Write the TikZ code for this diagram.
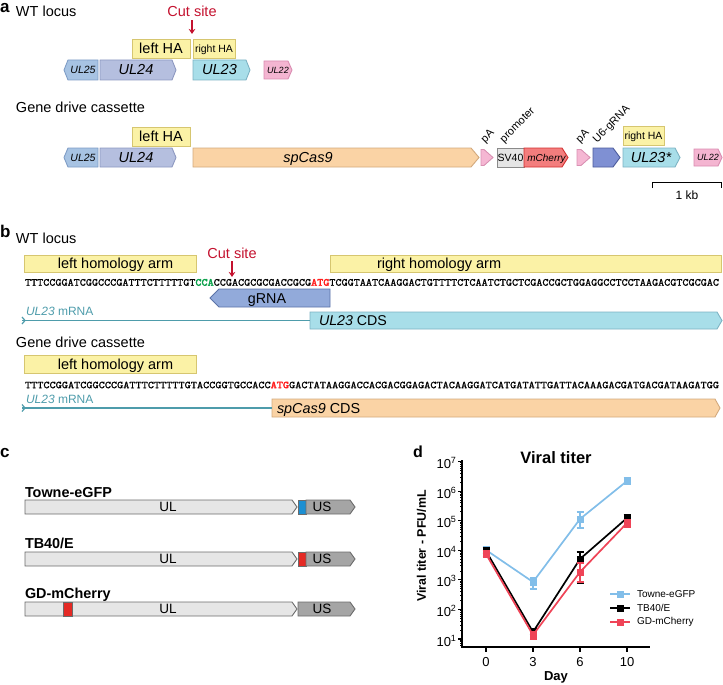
\documentclass[tikz,border=0pt]{standalone}
\usepackage{fontspec}
\setmainfont{Liberation Sans}
\newfontfamily\seqfont[FakeBold=1.2]{lmmono10-regular.otf}
\newfontfamily\seqfontb[FakeBold=3]{lmmono10-regular.otf}
\usepackage{graphicx}
\usetikzlibrary{arrows.meta}
\definecolor{haF}{HTML}{FBF2A6}\definecolor{haD}{HTML}{D6C670}
\definecolor{ul25F}{HTML}{A7C3E3}\definecolor{ul25D}{HTML}{7F9DC6}
\definecolor{ul24F}{HTML}{B5BFDF}\definecolor{ul24D}{HTML}{8D98C0}
\definecolor{ul23F}{HTML}{A8DEE9}\definecolor{ul23D}{HTML}{7DB3C3}
\definecolor{ul22F}{HTML}{F4B5D1}\definecolor{ul22D}{HTML}{D98CB1}
\definecolor{casF}{HTML}{FAD3A5}\definecolor{casD}{HTML}{D3A97D}
\definecolor{paF}{HTML}{F5B7D3}\definecolor{paD}{HTML}{D991B3}
\definecolor{svF}{HTML}{E5E5E5}\definecolor{svD}{HTML}{8A8A8A}
\definecolor{mchF}{HTML}{F37D7D}\definecolor{mchD}{HTML}{D22F2F}
\definecolor{u6F}{HTML}{7F90D3}\definecolor{u6D}{HTML}{4C5C9C}
\definecolor{grF}{HTML}{92AADA}\definecolor{grD}{HTML}{5B73A8}
\definecolor{cutred}{HTML}{C4122F}
\definecolor{cagreen}{HTML}{0AA04A}
\definecolor{atgred}{HTML}{FF1F1F}
\definecolor{mrnaC}{HTML}{4E9CAB}
\definecolor{ulF}{HTML}{E6E6E6}\definecolor{ulD}{HTML}{6B6B6B}
\definecolor{usF}{HTML}{A5A5A5}
\definecolor{gfpB}{HTML}{1C8FD2}
\definecolor{markR}{HTML}{E42A25}
\definecolor{towneC}{HTML}{82BEE9}
\definecolor{gdC}{HTML}{EF4457}
\newcommand\FSz[1]{\fontsize{#1}{#1}\selectfont}
\newcommand\tpow[1]{10\raisebox{5pt}{\FSz{9}#1}}
\newcommand\GeneRight[7]{%
  \draw[#2] (#3,#5) -- ({#4-#7},#5) -- (#4,{(#5+#6)/2}) -- ({#4-#7},#6) -- (#3,#6) -- cycle;
  \coordinate (#1) at ({(#3+#4-#7)/2},{(#5+#6)/2});
  \coordinate (#1-w) at (#3,{(#5+#6)/2});
  \coordinate (#1-e) at (#4,{(#5+#6)/2});}
\newcommand\GeneLeft[7]{%
  \draw[#2] (#4,#5) -- ({#3+#7},#5) -- (#3,{(#5+#6)/2}) -- ({#3+#7},#6) -- (#4,#6) -- cycle;
  \coordinate (#1) at ({(#3+#4+#7)/2},{(#5+#6)/2});
  \coordinate (#1-w) at (#3,{(#5+#6)/2});
  \coordinate (#1-e) at (#4,{(#5+#6)/2});}
\tikzset{
  gb/.style={line width=0.9pt},
  hab/.style={draw=haD, fill=haF, line width=0.9pt},
  capc/.style={text height=#1, text depth=0pt},
  cutarrow/.style={cutred, line width=1.4pt, -{Stealth[length=5pt,width=6.5pt]}},
  mrna/.style={mrnaC, line width=1.2pt},
  panel/.style={font=\FSz{17}\bfseries, anchor=base west, text height=9pt},
  rotlab/.style={anchor=base west, rotate=45, font=\FSz{11}},
}
\begin{document}
\begin{tikzpicture}[x=1pt,y=-1pt, every node/.style={inner sep=0pt, outer sep=0pt}]
\useasboundingbox (0,0) rectangle (723,685);

% ---------------- panel a ----------------
\node[panel] (la) at (0,12.5) {a};
\node[anchor=base west, font=\FSz{14.5}] (wta) at (16,17) {WT locus};
\node[anchor=base, font=\FSz{14.5}, text=cutred] (cuta) at (192,17) {Cut site};
\coordinate (cutaT) at (192,34);
\draw[cutarrow] ([yshift=-3pt]cuta.south) -- (cutaT);
\node[hab, minimum width=58pt, minimum height=19pt, font=\FSz{14.5}] (lhaA) at (161,48.5) {left HA};
\node[hab, minimum width=42pt, minimum height=19pt, font=\FSz{10.5}, capc=7.6pt] (rhaA) at (214,48.5) {right HA};
\GeneLeft{ul25A}{fill=ul25F,draw=ul25D,gb}{64}{98}{60}{80}{4}
\node[font=\FSz{10.5}\itshape] at (ul25A) {UL25};
\GeneRight{ul24A}{fill=ul24F,draw=ul24D,gb}{100}{176}{60}{80}{4}
\node[font=\FSz{14.5}\itshape] at (ul24A) {UL24};
\GeneRight{ul23A}{fill=ul23F,draw=ul23D,gb}{193}{250}{60}{80}{4}
\node[font=\FSz{14.5}\itshape] at (ul23A) {UL23};
\GeneRight{ul22A}{fill=ul22F,draw=ul22D,gb}{264}{292}{61}{79}{4}
\node[font=\FSz{9}\itshape] at ([xshift=2pt]ul22A) {UL22};

\node[anchor=base west, font=\FSz{14.5}] (gdc) at (16,112) {Gene drive cassette};
\node[hab, minimum width=58pt, minimum height=19pt, font=\FSz{14.5}] (lhaB) at (161,136.5) {left HA};
\GeneLeft{ul25B}{fill=ul25F,draw=ul25D,gb}{64}{98}{148}{167}{4}
\node[font=\FSz{10.5}\itshape] at (ul25B) {UL25};
\GeneRight{ul24B}{fill=ul24F,draw=ul24D,gb}{100}{176}{148}{167}{4}
\node[font=\FSz{14.5}\itshape] at (ul24B) {UL24};
\GeneRight{casB}{fill=casF,draw=casD,gb}{193}{479}{148}{167}{8}
\node[font=\FSz{14.5}\itshape, capc=10.4pt] at (308,157.5) {spCas9};
\GeneRight{pa1}{fill=paF,draw=paD,gb}{481}{493}{149.5}{165.5}{9}
\node[draw=svD, fill=svF, gb, minimum width=27pt, minimum height=19pt, font=\FSz{10.5}] (sv40) at (510.5,157.5) {SV40};
\GeneRight{mch}{fill=mchF,draw=mchD,gb}{524}{568}{148}{167}{6}
\node[font=\FSz{10}\itshape, capc=7.2pt] at (546.5,157.5) {mCherry};
\GeneRight{pa2}{fill=paF,draw=paD,gb}{577}{590}{149.5}{165.5}{9}
\GeneRight{u6}{fill=u6F,draw=u6D,gb}{593}{620}{148}{167}{7}
\node[hab, minimum width=41pt, minimum height=19pt, font=\FSz{10.5}, capc=7.6pt] (rhaB) at (643.5,135.5) {right HA};
\GeneRight{ul23B}{fill=ul23F,draw=ul23D,gb}{623}{680}{148}{167}{5}
\node[font=\FSz{14.5}\itshape] at (651,157.5) {UL23*};
\GeneRight{ul22B}{fill=ul22F,draw=ul22D,gb}{694}{722}{149}{166}{4}
\node[font=\FSz{9}\itshape] at ([xshift=2pt]ul22B) {UL22};
\node[rotlab] (lpa1) at (485,143) {pA};
\node[rotlab] (lprom) at (504,143) {promoter};
\node[rotlab] (lpa2) at (580,143) {pA};
\node[rotlab] (lu6) at (597,143) {U6-gRNA};
\coordinate (sbL) at (652,182);
\coordinate (sbR) at (721.5,182);
\draw[line width=1pt] ([yshift=-6pt]sbL) -- (sbL) -- (sbR) -- ([yshift=-6pt]sbR);
\node[font=\FSz{12}] (kb) at (687,195) {1 kb};

% ---------------- panel b ----------------
\node[panel] (lb) at (0,237) {b};
\node[anchor=base west, font=\FSz{14.5}] (wtb) at (16,243) {WT locus};
\node[anchor=base west, font=\FSz{12.5}\bfseries] (grl) at (492,270) {gRNA\,:};
\node[anchor=base west] (grs) at (537,270) {\resizebox{183pt}{8.3pt}{\seqfont ACATCGCGGTCGCGCGTCGG}};
\node[hab, minimum width=172pt, minimum height=17pt] (lhb1) at (110,263.5) {};
\node[anchor=base, font=\FSz{14.5}] (lhb1t) at (115.5,268.7) {left homology arm};
\node[hab, minimum width=391pt, minimum height=17pt] (rhb1) at (525.5,263.5) {};
\node[anchor=base west, font=\FSz{14.5}] (rhb1t) at (377,268.7) {right homology arm};
\node[anchor=base, font=\FSz{14.5}, text=cutred] (cutb) at (232,258) {Cut site};
\coordinate (cutbT) at (232,277);
\draw[cutarrow] ([yshift=-3pt]cutb.south) -- (cutbT);
\node[anchor=base west] (seq1) at (25,285.7) {\resizebox{694pt}{6.7pt}{\seqfont TTTCCGGATCGGCCCGATTTCTTTTTGT\textcolor{cagreen}{\seqfontb CCA}CCGACGCGCGACCGCG\textcolor{atgred}{\seqfontb ATG}TCGGTAATCAAGGACTGTTTTCTCAATCTGCTCGACCGCTGGAGGCCTCCTAAGACGTCGCGAC}};
\GeneLeft{grb}{fill=grF,draw=grD,gb}{210}{330}{289}{307}{9}
\node[font=\FSz{14.3}, capc=10.3pt] (grbt) at (267,298) {gRNA};
\node[anchor=base west, font=\FSz{12}, text=mrnaC] (mr1) at (26,315) {\textit{UL23} mRNA};
\GeneRight{cds1}{fill=ul23F,draw=ul23D,gb}{310}{722}{312}{329}{5}
\node[anchor=base west, font=\FSz{14.2}] (cds1t) at (319,325.6) {\textit{UL23} CDS};
\coordinate (mr1s) at (22,320.5);
\draw[mrna] (mr1s) -- (cds1-w);
\draw[mrna] ([shift={(0,-3.5)}]mr1s) -- ([xshift=3pt]mr1s) -- ([shift={(0,3.5)}]mr1s);

\node[anchor=base west, font=\FSz{14.5}] (gdb) at (16,347.5) {Gene drive cassette};
\node[hab, minimum width=172pt, minimum height=18pt] (lhb2) at (110,364) {};
\node[anchor=base, font=\FSz{14.5}] (lhb2t) at (115.5,369.2) {left homology arm};
\node[anchor=base west] (seq2) at (25,388.2) {\resizebox{694pt}{6.5pt}{\seqfont TTTCCGGATCGGCCCGATTTCTTTTTGTACCGGTGCCACC\textcolor{atgred}{\seqfontb ATG}GACTATAAGGACCACGACGGAGACTACAAGGATCATGATATTGATTACAAAGACGATGACGATAAGATGG}};
\node[anchor=base west, font=\FSz{12}, text=mrnaC] (mr2) at (26,403) {\textit{UL23} mRNA};
\GeneRight{cds2}{fill=casF,draw=casD,gb}{272}{720}{399}{417}{5}
\node[anchor=base west, font=\FSz{14.4}] (cds2t) at (277,413.2) {\textit{spCas9} CDS};
\coordinate (mr2s) at (22,408);
\draw[mrna] (mr2s) -- (cds2-w);
\draw[mrna] ([shift={(0,-3.5)}]mr2s) -- ([xshift=3pt]mr2s) -- ([shift={(0,3.5)}]mr2s);

% ---------------- panel c ----------------
\node[panel] (lc) at (0,457) {c};
\node[anchor=base west, font=\FSz{14.4}\bfseries] (t1) at (25,497) {Towne-eGFP};
\GeneRight{ulA}{fill=ulF,draw=ulD,gb}{25}{297}{500}{514}{5}
\node[font=\FSz{13.5}] at (168,507) {UL};
\draw[fill=gfpB, draw=ulD, gb] (298,500) rectangle (306,514);
\GeneRight{usA}{fill=usF,draw=ulD,gb}{306}{355}{500}{514}{5}
\node[font=\FSz{13.5}] at (322,507) {US};

\node[anchor=base west, font=\FSz{14.4}\bfseries] (t2) at (25,548) {TB40/E};
\GeneRight{ulB}{fill=ulF,draw=ulD,gb}{25}{297}{552}{566}{5}
\node[font=\FSz{13.5}] at (168,559) {UL};
\draw[fill=markR, draw=ulD, gb] (298,552) rectangle (306,566);
\GeneRight{usB}{fill=usF,draw=ulD,gb}{306}{355}{552}{566}{5}
\node[font=\FSz{13.5}] at (322,559) {US};

\node[anchor=base west, font=\FSz{14.4}\bfseries] (t3) at (25,598.5) {GD-mCherry};
\GeneRight{ulC}{fill=ulF,draw=ulD,gb}{25}{297}{602}{616}{5}
\draw[fill=markR, draw=ulD, gb] (63,602) rectangle (72,616);
\node[font=\FSz{13.5}] at (168,609) {UL};
\GeneRight{usC}{fill=usF,draw=ulD,gb}{298}{355}{602}{616}{5}
\node[font=\FSz{13.5}] at (322,609) {US};

% ---------------- panel d ----------------
\node[font=\FSz{16}\bfseries, anchor=base west] (ld) at (413,457) {d};
\node[font=\FSz{16.5}\bfseries] (ttl) at (556,457.5) {Viral titer};
\coordinate (ax0) at (462,647);
\coordinate (axT) at (462,460);
\coordinate (axR) at (650,647);
\draw[line width=1.5pt] (axT) -- (ax0) -- (axR);
\foreach \L in {1,...,7}{
  \draw[line width=1.2pt] (462,{668.6-29.58*\L}) -- ++(-4.5,0);
  \node[anchor=east, font=\FSz{13}] (yt\L) at (456,{668.6-29.58*\L+1.5}) {\tpow{\L}};
}
\foreach \d in {1,...,6}{
  \foreach \m in {2,...,9}{
    \draw[line width=0.8pt] (462,{668.6-29.58*(\d+log10(\m))}) -- ++(-2.5,0);
  }
}
\foreach \m in {6,...,9}{
  \draw[line width=0.8pt] (462,{668.6-29.58*log10(\m)}) -- ++(-2.5,0);
}
\foreach \xx/\lab in {486/0,533/3,580/6,627/10}{
  \draw[line width=1.2pt] (\xx,647) -- (\xx,651.5);
  \node[font=\FSz{13}] (xt\lab) at (\xx,662) {\lab};
}
\node[font=\FSz{13}\bfseries] (xl) at (556,677) {Day};
\node[font=\FSz{12.4}\bfseries, rotate=90] (yl) at (421.5,546) {Viral titer - PFU/mL};

% Towne-eGFP
\draw[towneC, line width=1.7pt] (486,550) -- (533,582) -- (580,519) -- (627,481);
\foreach \xx/\ya/\yb in {486/547/553,533/578/589,580/512/528,627/478/484}{
  \draw[towneC, line width=1.3pt] (\xx,\ya) -- (\xx,\yb) (\xx-3.5,\ya) -- (\xx+3.5,\ya) (\xx-3.5,\yb) -- (\xx+3.5,\yb);
}
\foreach \xx/\yy in {486/550,533/582,580/519,627/481}{
  \fill[towneC] (\xx-3.5,\yy-3.5) rectangle (\xx+3.5,\yy+3.5);
}
% TB40/E
\draw[black, line width=1.7pt] (486,551) -- (533,632) -- (580,559) -- (627,518);
\foreach \xx/\ya/\yb in {486/548/554,533/629/635,580/552/583,627/515/521}{
  \draw[black, line width=1.3pt] (\xx,\ya) -- (\xx,\yb) (\xx-3.5,\ya) -- (\xx+3.5,\ya) (\xx-3.5,\yb) -- (\xx+3.5,\yb);
}
\foreach \xx/\yy in {486/551,533/632,580/559,627/518}{
  \fill[black] (\xx-3.5,\yy-3.5) rectangle (\xx+3.5,\yy+3.5);
}
% GD-mCherry
\draw[gdC, line width=1.7pt] (486,554) -- (533,635) -- (580,572) -- (627,523);
\foreach \xx/\ya/\yb in {486/551/557,533/631.5/639.5,580/563/582,627/520/527}{
  \draw[gdC, line width=1.3pt] (\xx,\ya) -- (\xx,\yb) (\xx-3.5,\ya) -- (\xx+3.5,\ya) (\xx-3.5,\yb) -- (\xx+3.5,\yb);
}
\foreach \xx/\yy in {486/554,533/635,580/572,627/523}{
  \fill[gdC] (\xx-3.5,\yy-3.5) rectangle (\xx+3.5,\yy+3.5);
}
% legend
\draw[towneC, line width=1.7pt] (610,594) -- (630,594);
\fill[towneC] (616.5,590.5) rectangle (623.5,597.5);
\node[anchor=west, font=\FSz{10}] (lg1) at (637,594) {Towne-eGFP};
\draw[black, line width=1.7pt] (610,608) -- (630,608);
\fill[black] (616.5,604.5) rectangle (623.5,611.5);
\node[anchor=west, font=\FSz{10}] (lg2) at (637,608) {TB40/E};
\draw[gdC, line width=1.7pt] (610,622) -- (630,622);
\fill[gdC] (616.5,618.5) rectangle (623.5,625.5);
\node[anchor=west, font=\FSz{10}] (lg3) at (637,622) {GD-mCherry};
\end{tikzpicture}
\end{document}
